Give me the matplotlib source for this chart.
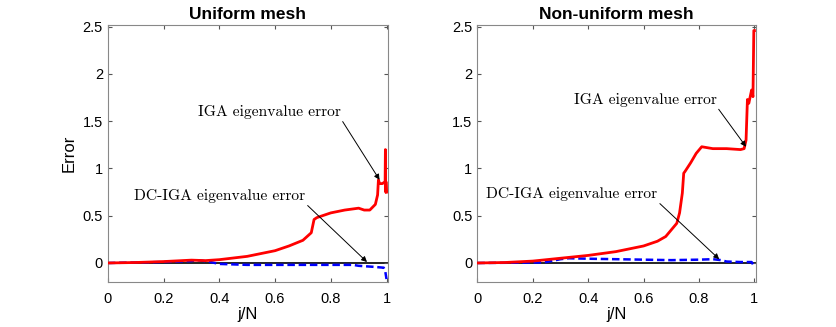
import matplotlib
matplotlib.use("Agg")
import matplotlib.pyplot as plt

# ---- data ----
u_iga_x = [0, 0.1, 0.2, 0.3, 0.35, 0.4, 0.5, 0.6, 0.65, 0.7, 0.73, 0.74, 0.75, 0.8, 0.85, 0.9,
           0.92, 0.94, 0.96, 0.968, 0.971, 0.975, 0.985, 0.99, 0.995, 0.996, 0.997, 0.998, 1.0]
u_iga_y = [0, 0.005, 0.015, 0.03, 0.025, 0.035, 0.07, 0.13, 0.18, 0.24, 0.32, 0.46, 0.48, 0.53, 0.56, 0.58,
           0.56, 0.56, 0.62, 0.72, 0.88, 0.84, 0.84, 0.85, 0.86, 1.2, 0.75, 0.86, 0.75]
u_dc_x = [0, 0.1, 0.2, 0.3, 0.32, 0.36, 0.4, 0.5, 0.6, 0.7, 0.8, 0.88, 0.9, 0.95, 0.99, 0.995, 1.0]
u_dc_y = [0, 0.005, 0.01, 0.02, 0.03, 0.015, -0.01, -0.02, -0.02, -0.02, -0.02, -0.02, -0.03, -0.04, -0.05, -0.08, -0.17]

n_iga_x = [0, 0.1, 0.2, 0.3, 0.4, 0.5, 0.6, 0.65, 0.68, 0.7, 0.72, 0.73, 0.74, 0.745, 0.75, 0.77, 0.79,
           0.81, 0.85, 0.9, 0.95, 0.963, 0.97, 0.975, 0.98, 0.985, 0.99, 0.995, 0.998, 1.0]
n_iga_y = [0, 0.005, 0.02, 0.05, 0.08, 0.12, 0.18, 0.23, 0.28, 0.35, 0.42, 0.53, 0.74, 0.95, 0.97, 1.06, 1.16,
           1.23, 1.21, 1.21, 1.2, 1.21, 1.3, 1.73, 1.69, 1.76, 1.83, 1.76, 2.46, 2.46]
n_dc_x = [0, 0.1, 0.22, 0.25, 0.3, 0.33, 0.4, 0.5, 0.6, 0.7, 0.8, 0.85, 0.88, 0.9, 0.95, 0.99, 1.0]
n_dc_y = [0, 0.002, 0.005, 0.01, 0.04, 0.05, 0.045, 0.04, 0.035, 0.03, 0.035, 0.04, 0.03, 0.015, 0.01, 0.01, -0.04]

titles = ["Uniform mesh", "Non-uniform mesh"]
xticks = [0, 0.2, 0.4, 0.6, 0.8, 1]
xticklabels = ["0", "0.2", "0.4", "0.6", "0.8", "1"]
yticks = [0, 0.5, 1, 1.5, 2, 2.5]
yticklabels = ["0", "0.5", "1", "1.5", "2", "2.5"]

# annotation positions (text center, arrow tip)
ann = [
    {"iga_text": (0.58, 1.6), "iga_tip": (0.975, 0.88),
     "dc_text": (0.40, 0.71), "dc_tip": (0.93, 0.01)},
    {"iga_text": (0.606, 1.73), "iga_tip": (0.97, 1.23),
     "dc_text": (0.34, 0.73), "dc_tip": (0.873, 0.04)},
]

plt.rcParams['font.family'] = ['Liberation Sans', 'DejaVu Sans']

fig = plt.figure(figsize=(8.36, 3.27), dpi=100)
ax1 = fig.add_axes([0.129, 0.138, 0.335, 0.786])
ax2 = fig.add_axes([0.571, 0.138, 0.333, 0.786])

datasets = [(u_iga_x, u_iga_y, u_dc_x, u_dc_y), (n_iga_x, n_iga_y, n_dc_x, n_dc_y)]
serif = 'cmr10'

for i, (ax, (ix, iy, dx, dy)) in enumerate(zip([ax1, ax2], datasets)):
    ax.axhline(0, color='black', lw=1.2, zorder=1)
    ax.plot(ix, iy, color='#ff0000', lw=2.0, zorder=3)
    ax.plot(dx, dy, color='#0000ff', lw=1.8, ls=(0, (3, 1.5)), zorder=2)
    ax.set_xlim(0, 1.005)
    ax.set_ylim(-0.2, 2.52)
    ax.set_xticks(xticks)
    ax.set_xticklabels(xticklabels)
    ax.set_yticks(yticks)
    ax.set_yticklabels(yticklabels)
    ax.tick_params(direction='in', length=3, color='#555555', labelsize=10.5, top=True, right=True,
                   labeltop=False, labelright=False)
    ax.tick_params(axis='x', pad=7)
    for s in ax.spines.values():
        s.set_color('#888888')
        s.set_linewidth(0.8)
    ax.set_title(titles[i], fontsize=12.5, fontweight='bold', pad=4)
    ax.set_xlabel("j/N", fontsize=12, labelpad=1)
    a = ann[i]
    ax.annotate("IGA eigenvalue error", xy=a["iga_tip"], xytext=a["iga_text"],
                ha='center', va='center', fontsize=11.2, family=serif,
                arrowprops=dict(arrowstyle='-|>', color='black', lw=0.7, mutation_scale=8,
                                shrinkA=0, shrinkB=0,
                                relpos=(1.0, 0.0)))
    ax.annotate("DC-IGA eigenvalue error", xy=a["dc_tip"], xytext=a["dc_text"],
                ha='center', va='center', fontsize=11.2, family=serif,
                arrowprops=dict(arrowstyle='-|>', color='black', lw=0.7, mutation_scale=8,
                                shrinkA=0, shrinkB=0,
                                relpos=(1.0, 0.0)))

ax1.set_ylabel("Error", fontsize=12, labelpad=4)

fig.savefig("out.png", dpi=100)
